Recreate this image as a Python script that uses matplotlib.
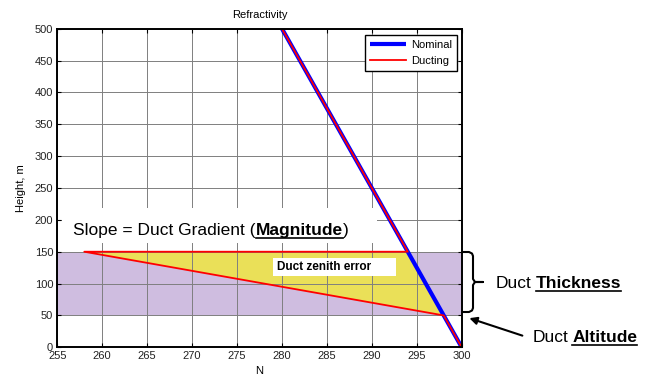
import matplotlib
matplotlib.use('Agg')
import matplotlib.pyplot as plt
from matplotlib.lines import Line2D
from matplotlib.patches import Polygon, Rectangle, FancyArrowPatch

plt.rcParams['font.family'] = ['Liberation Sans', 'DejaVu Sans']

# ---------------- data ----------------
nominal_N = [280, 300]
nominal_h = [500, 0]
ducting_N = [280, 294, 258, 298, 300]
ducting_h = [500, 150, 150, 50, 0]
duct_base = 50
duct_top = 150
error_N = [258, 294, 298]
error_h = [150, 150, 50]
xticks = list(range(255, 301, 5))
yticks = list(range(0, 501, 50))
series_labels = ['Nominal', 'Ducting']

# ---------------- figure ----------------
W, H = 655, 377
fig = plt.figure(figsize=(W / 100, H / 100), dpi=100)
ax = fig.add_axes([57.3 / W, 1 - 347.3 / H, 404.4 / W, 318.6 / H])

ax.set_xlim(255, 300)
ax.set_ylim(0, 500)
ax.set_xticks(xticks)
ax.set_yticks(yticks)
ax.set_axisbelow(False)
ax.grid(True, color='#7f7f7f', lw=0.7)
ax.tick_params(direction='in', length=3, width=0.8, top=True, right=True,
               labelsize=8, pad=3, colors='black', labelcolor='#222222')
for sp in ax.spines.values():
    sp.set_linewidth(1.4)
    sp.set_zorder(6)

# duct band and error triangle
ax.axhspan(duct_base, duct_top, color='#cfbde0', zorder=1, lw=0)
ax.add_patch(Polygon(list(zip(error_N, error_h)), closed=True,
                     facecolor='#eae058', edgecolor='none', zorder=1.5))

# white box behind slope text
ax.add_patch(Rectangle((255.5, 163.7), 35.1, 54.9, facecolor='white',
                       edgecolor='none', zorder=2.6))
# duct zenith error box
ax.add_patch(Rectangle((279.0, 111.9), 13.7, 28.2, facecolor='white',
                       edgecolor='none', zorder=2.6))
ax.text(279.5, 125.5, 'Duct zenith error', fontsize=8.5, fontweight='bold',
        ha='left', va='center', zorder=2.7)

# lines
ln1, = ax.plot(nominal_N, nominal_h, color='#0000ff', lw=3.0, zorder=3,
               label=series_labels[0], solid_capstyle='butt')
ln2, = ax.plot(ducting_N, ducting_h, color='#ff0000', lw=1.3, zorder=4,
               label=series_labels[1])

leg = ax.legend(loc='upper right', bbox_to_anchor=(0.988, 0.980),
                borderaxespad=0, fancybox=False, edgecolor='black',
                framealpha=1, fontsize=8, handlelength=3.3,
                labelspacing=0.5, borderpad=0.45, handletextpad=0.4)
leg.get_frame().set_linewidth(1.0)
leg.set_zorder(7)

ax.set_title('Refractivity', fontsize=8, pad=7.5)
ax.set_xlabel('N', fontsize=8)
ax.set_ylabel('Height, m', fontsize=8)
ax.xaxis.set_label_coords(0.5, -0.058)
ax.yaxis.set_label_coords(-0.077, 0.5)

# ---------------- rich annotation text ----------------
fig.canvas.draw()
renderer = fig.canvas.get_renderer()


def rich(x_px, base_px, parts, size):
    x = x_px
    for s, bold, ul, gap in parts:
        x += gap * size * 100 / 72
        t = fig.text(x / W, 1 - base_px / H, s, fontsize=size,
                     fontweight='bold' if bold else 'normal',
                     va='baseline', ha='left', zorder=8)
        bb = t.get_window_extent(renderer)
        if ul:
            fig.add_artist(Line2D([bb.x0 / W, bb.x1 / W],
                                  [1 - (base_px + 2.6) / H] * 2,
                                  color='black', lw=1.2, zorder=8))
        x = bb.x1


rich(73.3, 235.5, [('Slope = Duct Gradient (', False, False, 0),
                   ('Magnitude', True, True, 0.02),
                   (')', False, False, 0)], 12.5)
rich(496, 288, [('Duct', False, False, 0),
                ('Thickness', True, True, 0.22)], 12.5)
rich(532.7, 342.5, [('Duct', False, False, 0),
                    ('Altitude', True, True, 0.22)], 12.5)

# bracket
bx = [463, 469, 472, 473, 473, 475, 483, 475, 473, 473, 472, 469, 463]
by = [252, 252, 253.5, 256, 279, 282, 282, 282, 285, 308, 310.5, 312, 312]
fig.add_artist(Line2D([v / W for v in bx], [1 - v / H for v in by],
                      color='black', lw=1.5, solid_joinstyle='round'))

# arrow
fig.add_artist(FancyArrowPatch((525 / W, 1 - 336.5 / H), (466.7 / W, 1 - 317.3 / H),
                               transform=fig.transFigure, arrowstyle='-|>',
                               mutation_scale=11, lw=1.5, color='black'))

fig.savefig('out.png', dpi=100)
